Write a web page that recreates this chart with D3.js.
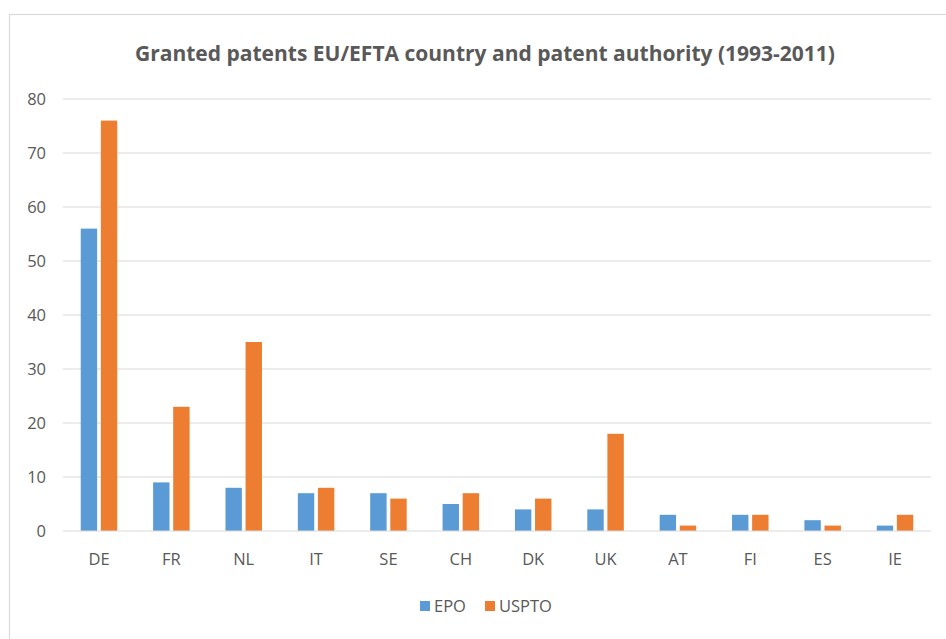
<!DOCTYPE html>
<html><head><meta charset="utf-8">
<script src="https://cdn.jsdelivr.net/npm/d3@7"></script>
<style>body{margin:0;background:#fff;}svg{display:block;}</style>
</head><body>
<svg id="c" width="946" height="639"></svg>
<script>
const categories = ["DE","FR","NL","IT","SE","CH","DK","UK","AT","FI","ES","IE"];
const epo = [56,9,8,7,7,5,4,4,3,3,2,1];
const uspto = [76,23,35,8,6,7,6,18,1,3,1,3];
const seriesNames = ["EPO","USPTO"];
const colors = ["#5B9BD5","#ED7D31"];
const yTicks = [0,10,20,30,40,50,60,70,80];
const title = "Granted patents EU/EFTA country and patent authority (1993-2011)";

(function(){
const svg = d3.select("#c");
const font = "'Open Sans', sans-serif";
const textColor = "#595959";

svg.append("rect").attr("x",9.5).attr("y",14.5).attr("width",960).attr("height",700)
  .attr("fill","none").attr("stroke","#d9d9d9").attr("stroke-width",1.2);

const pLeft = 62.8, pRight = 931.2, pTop = 99, pBottom = 531;
const x = d3.scaleBand().domain(categories).range([pLeft,pRight]).paddingInner(0).paddingOuter(0);
const y = d3.scaleLinear().domain([0,80]).range([pBottom,pTop]);

svg.append("g").selectAll("line").data(yTicks.filter(d=>d>0)).join("line")
  .attr("x1",pLeft).attr("x2",pRight).attr("y1",d=>y(d)).attr("y2",d=>y(d))
  .attr("stroke","#d9d9d9").attr("stroke-width",1);

svg.append("g").selectAll("text").data(yTicks).join("text")
  .attr("x",46).attr("y",d=>y(d)).attr("dy","0.35em").attr("text-anchor","end")
  .attr("font-family",font).attr("font-size",16.5).attr("fill",textColor).text(d=>d);

const barW = 16.4, gap = 3.7;
const data = categories.map((c,i)=>({c, vals:[epo[i],uspto[i]]}));
const g = svg.append("g");
data.forEach(d=>{
  d.vals.forEach((v,s)=>{
    const cx = x(d.c)+x.bandwidth()/2;
    const bx = s===0 ? cx - gap/2 - barW : cx + gap/2;
    g.append("rect").attr("x",bx).attr("y",y(v)).attr("width",barW).attr("height",y(0)-y(v))
      .attr("fill",colors[s]);
  });
});

svg.append("line").attr("x1",pLeft).attr("x2",pRight).attr("y1",y(0)).attr("y2",y(0))
  .attr("stroke","#d9d9d9").attr("stroke-width",1.2);

svg.append("g").selectAll("text").data(categories).join("text")
  .attr("x",d=>x(d)+x.bandwidth()/2).attr("y",565).attr("text-anchor","middle")
  .attr("font-family",font).attr("font-size",16.5).attr("fill",textColor).text(d=>d);

svg.append("text").attr("x",485).attr("y",61).attr("text-anchor","middle")
  .attr("font-family",font).attr("font-weight","bold").attr("font-size",21)
  .attr("fill",textColor).text(title);

const lg = svg.append("g");
const legendItems = [{n:seriesNames[0],c:colors[0],x:420},{n:seriesNames[1],c:colors[1],x:485}];
legendItems.forEach(it=>{
  lg.append("rect").attr("x",it.x).attr("y",601).attr("width",10).attr("height",10).attr("fill",it.c);
  lg.append("text").attr("x",it.x+14).attr("y",612).attr("font-family",font).attr("font-size",16.5)
    .attr("fill",textColor).text(it.n);
});
})();
</script>
</body></html>
